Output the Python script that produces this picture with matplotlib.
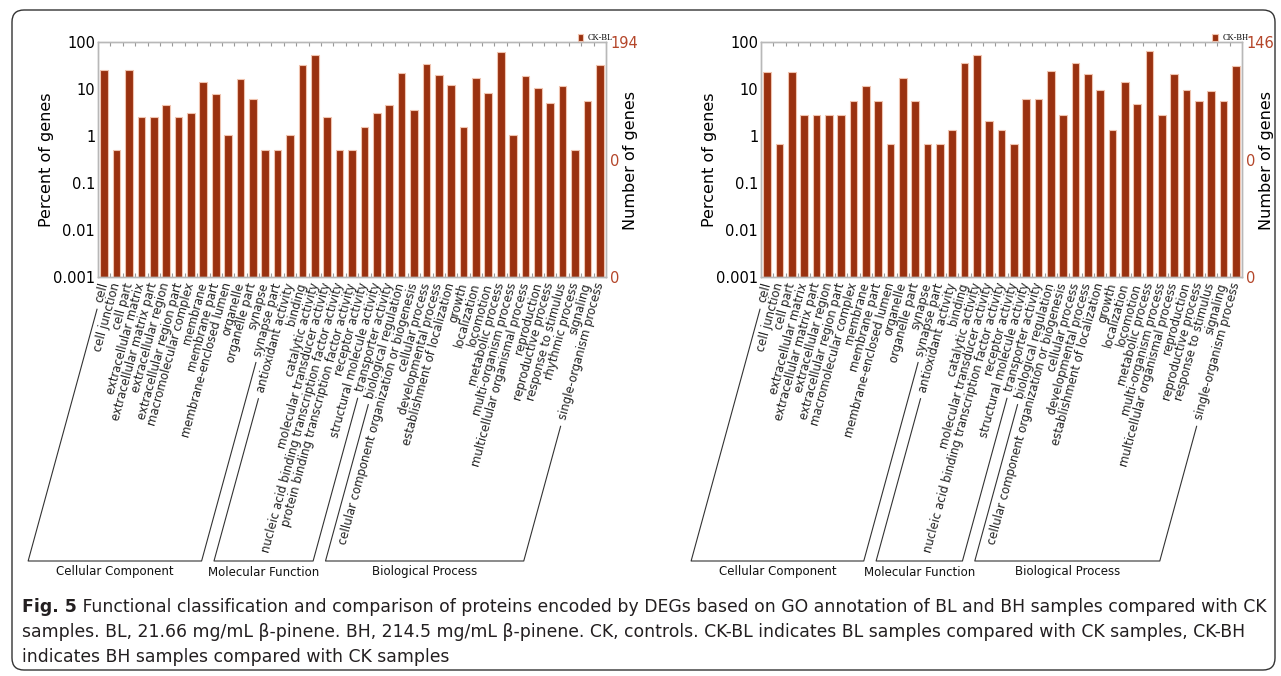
import numpy as np
import matplotlib
matplotlib.use("Agg")
import matplotlib.pyplot as plt
from matplotlib import font_manager
from matplotlib.patches import FancyBboxPatch
from matplotlib.lines import Line2D
from matplotlib.ticker import FixedLocator, FixedFormatter, NullLocator
from matplotlib.transforms import blended_transform_factory

W, H, DPI = 1281, 676, 100

# GO terms per category
cc_terms = ["cell", "cell junction", "cell part", "extracellular matrix",
            "extracellular matrix part", "extracellular region",
            "extracellular region part", "macromolecular complex", "membrane",
            "membrane part", "membrane-enclosed lumen", "organelle",
            "organelle part", "synapse", "synapse part"]
mf_terms_bl = ["antioxidant activity", "binding", "catalytic activity",
               "molecular transducer activity",
               "nucleic acid binding transcription factor activity",
               "protein binding transcription factor activity",
               "receptor activity", "structural molecule activity",
               "transporter activity"]
bp_terms_bl = ["biological regulation",
               "cellular component organization or biogenesis",
               "cellular process", "developmental process",
               "establishment of localization", "growth", "localization",
               "locomotion", "metabolic process", "multi-organism process",
               "multicellular organismal process", "reproduction",
               "reproductive process", "response to stimulus",
               "rhythmic process", "signaling", "single-organism process"]
mf_terms_bh = [t for t in mf_terms_bl
               if t != "protein binding transcription factor activity"]
bp_terms_bh = [t for t in bp_terms_bl if t != "rhythmic process"]

# number of genes per term
bl_total = 194
bl_cc = [50, 1, 50, 5, 5, 9, 5, 6, 28, 15, 2, 32, 12, 1, 1]
bl_mf = [2, 63, 103, 5, 1, 1, 3, 6, 9]
bl_bp = [42, 7, 65, 39, 24, 3, 33, 16, 119, 2, 37, 20, 10, 22, 1, 11, 62]

bh_total = 146
bh_cc = [33, 1, 33, 4, 4, 4, 4, 8, 17, 8, 1, 25, 8, 1, 1]
bh_mf = [2, 52, 78, 3, 2, 1, 9, 9]
bh_bp = [35, 4, 52, 30, 14, 2, 21, 7, 94, 4, 30, 14, 8, 13, 8, 44]

group_names = ["Cellular Component", "Molecular Function", "Biological Process"]

BAR = "#9a3110"
EDGE = "#f0c4b0"
SPINE = "#b8b8b8"
RIGHT_TXT = "#b4462a"
ANGLE = 74.7
LABEL_GAP = 6       # px below the axes where the term labels hang
BRACKET_Y = 561     # px from top
GROUP_Y = 572


def px_rect(left, top, right, bottom):
    return [left / W, 1 - bottom / H, (right - left) / W, (bottom - top) / H]


def draw_panel(fig, rect, groups, total, name):
    terms = [t for g in groups for t in g[0]]
    counts = np.array([c for g in groups for c in g[1]], dtype=float)
    pct = counts / total * 100
    x = np.arange(len(terms))

    ax = fig.add_axes(rect)
    bars = ax.bar(x, pct, width=0.62, color=BAR, edgecolor=EDGE,
                  linewidth=0.8, zorder=2, label=name)
    ax.set_yscale("log")
    ax.set_ylim(0.001, 100)
    ax.set_xlim(-0.5, len(terms) - 0.5)
    ax.yaxis.set_major_locator(FixedLocator([0.001, 0.01, 0.1, 1, 10, 100]))
    ax.yaxis.set_major_formatter(FixedFormatter(["0.001", "0.01", "0.1", "1", "10", "100"]))
    ax.yaxis.set_minor_locator(NullLocator())
    ax.tick_params(axis="y", length=0, pad=2, labelsize=10.5)
    ax.set_xticks(x[:-1] + 0.5)
    ax.tick_params(axis="x", direction="in", length=3, color="#999999",
                   top=True, bottom=True, labelbottom=False)

    ax2 = ax.twinx()
    ax2.set_yscale("log")
    ax2.set_ylim(0.001, 100)
    ax2.yaxis.set_major_locator(FixedLocator([100, 10 ** -0.5, 0.001]))
    ax2.yaxis.set_major_formatter(FixedFormatter([str(total), "0", "0"]))
    ax2.yaxis.set_minor_locator(NullLocator())
    ax2.tick_params(axis="y", length=0, pad=3, labelsize=10.5, labelcolor=RIGHT_TXT)

    for a in (ax, ax2):
        for sp in a.spines.values():
            sp.set_color(SPINE)
            sp.set_linewidth(1)

    ax.legend(handles=[bars], loc="lower right", bbox_to_anchor=(1.015, 0.995),
              frameon=False, prop={"family": "Liberation Serif", "size": 6},
              handlelength=0.7, handleheight=0.9, handletextpad=0.5,
              borderpad=0.1, borderaxespad=0)

    trans = blended_transform_factory(ax.transData, ax.transAxes)
    y_lab = -LABEL_GAP / (rect[3] * H)
    texts = []
    for i, t in enumerate(terms):
        texts.append(ax.text(i, y_lab, t, transform=trans, rotation=ANGLE,
                             ha="right", va="center", rotation_mode="anchor",
                             fontsize=8.4, color="#222222"))

    # y labels
    left_px = rect[0] * W
    right_px = (rect[0] + rect[2]) * W
    fig.text((left_px - 51) / W, 1 - (160 / H), "Percent of genes", rotation=90,
             ha="center", va="center", fontsize=11.5)
    fig.text((right_px + 24) / W, 1 - (160 / H), "Number of genes", rotation=90,
             ha="center", va="center", fontsize=11.5)

    # group brackets along the label direction
    fig.canvas.draw()
    renderer = fig.canvas.get_renderer()
    inv = fig.transFigure.inverted()
    tan = np.tan(np.radians(ANGLE))
    y_base = H - BRACKET_Y
    start = 0
    for (gterms, _), gname in zip(groups, group_names):
        ends = []
        for idx in (start, start + len(gterms) - 1):
            ax_x, ax_y = trans.transform((idx, y_lab))
            bb = texts[idx].get_window_extent(renderer)
            y0 = bb.y0 - 5
            x0 = ax_x - (ax_y - y0) / tan
            x1 = ax_x - (ax_y - y_base) / tan
            ends.append(((x0, y0), (x1, y_base)))
        (p0, p1), (q0, q1) = ends
        pts = inv.transform([p0, p1, q1, q0])
        fig.add_artist(Line2D(pts[:, 0], pts[:, 1], color="#333333", lw=0.8))
        cx = inv.transform([((p1[0] + q1[0]) / 2, H - GROUP_Y)])[0]
        fig.text(cx[0], cx[1], gname, ha="center", va="center", fontsize=8.5,
                 color="#111111")
        start += len(gterms)
    return ax


fig = plt.figure(figsize=(W / DPI, H / DPI), dpi=DPI)

draw_panel(fig, px_rect(98, 42, 606, 277),
           [(cc_terms, bl_cc), (mf_terms_bl, bl_mf), (bp_terms_bl, bl_bp)],
           bl_total, "CK-BL")
draw_panel(fig, px_rect(761, 42, 1242, 277),
           [(cc_terms, bh_cc), (mf_terms_bh, bh_mf), (bp_terms_bh, bh_bp)],
           bh_total, "CK-BH")

# outer rounded frame
fig.add_artist(FancyBboxPatch((0.12, 0.06), 12.63, 6.60,
                              boxstyle="round,pad=0,rounding_size=0.12",
                              transform=fig.dpi_scale_trans, fill=False,
                              ec="#333333", lw=1))

# caption
names = {f.name for f in font_manager.fontManager.ttflist}
cap_family = "Liberation Sans Narrow" if "Liberation Sans Narrow" in names else "DejaVu Sans"
cap_lines = [
    "Functional classification and comparison of proteins encoded by DEGs based on GO annotation of BL and BH samples compared with CK",
    "samples. BL, 21.66 mg/mL \u03b2-pinene. BH, 214.5 mg/mL \u03b2-pinene. CK, controls. CK-BL indicates BL samples compared with CK samples, CK-BH",
    "indicates BH samples compared with CK samples",
]
cap_y = [607, 632, 657]
x0 = 22
fs = 11
bold = fig.text(x0 / W, 1 - cap_y[0] / H, "Fig. 5", fontweight="bold",
                family=cap_family, fontsize=fs, va="center", color="#231f20")
fig.canvas.draw()
r = fig.canvas.get_renderer()
bw = bold.get_window_extent(r).width
probe = fig.text(0, 0, " " + cap_lines[0], family=cap_family, fontsize=fs)
tw = probe.get_window_extent(r).width
probe.remove()
fs = fs * (1265 - x0) / (bw + tw)
bold.set_fontsize(fs)
fig.canvas.draw()
bw = bold.get_window_extent(r).width
fig.text((x0 + bw) / W, 1 - cap_y[0] / H, " " + cap_lines[0], family=cap_family,
         fontsize=fs, va="center", color="#231f20")
for line, yy in zip(cap_lines[1:], cap_y[1:]):
    fig.text(x0 / W, 1 - yy / H, line, family=cap_family, fontsize=fs,
             va="center", color="#231f20")

fig.savefig("out.png", dpi=DPI)
